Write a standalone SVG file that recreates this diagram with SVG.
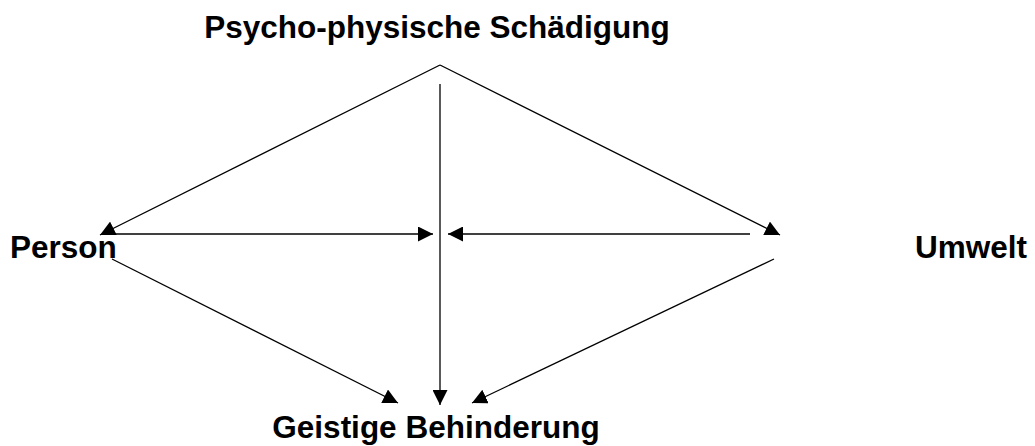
<svg xmlns="http://www.w3.org/2000/svg" width="1035" height="446" viewBox="0 0 1035 446">
<style>
.lbl{font-family:"Liberation Sans",Arial,sans-serif;font-weight:bold;font-size:31.5px;fill:#000}
.c{stroke:#000;stroke-width:1.3;fill:none}
</style>
<defs>
<marker id="ah" viewBox="0 0 10 10" refX="10" refY="5" markerWidth="15" markerHeight="15" markerUnits="userSpaceOnUse" orient="auto">
<path d="M0,0 L10,5 L0,10 z" fill="#000"/>
</marker>
</defs>
<rect width="1035" height="446" fill="#fff"/>
<g id="connectors">
<line class="c" x1="440" y1="65" x2="100" y2="235" marker-end="url(#ah)"/>
<line class="c" x1="440" y1="65" x2="780" y2="235" marker-end="url(#ah)"/>
<line class="c" x1="440" y1="84" x2="440" y2="405" marker-end="url(#ah)"/>
<line class="c" x1="102" y1="234" x2="433" y2="234" marker-end="url(#ah)"/>
<line class="c" x1="750" y1="234" x2="448" y2="234" marker-end="url(#ah)"/>
<line class="c" x1="112" y1="259" x2="398" y2="403" marker-end="url(#ah)"/>
<line class="c" x1="774" y1="259" x2="472" y2="403" marker-end="url(#ah)"/>
</g>
<g id="node-schaedigung"><text class="lbl" x="437" y="38" text-anchor="middle">Psycho-physische Schädigung</text></g>
<g id="node-person"><text class="lbl" x="10" y="258">Person</text></g>
<g id="node-umwelt"><text class="lbl" x="1027" y="258" text-anchor="end">Umwelt</text></g>
<g id="node-behinderung"><text class="lbl" x="436" y="438" text-anchor="middle">Geistige Behinderung</text></g>
</svg>
